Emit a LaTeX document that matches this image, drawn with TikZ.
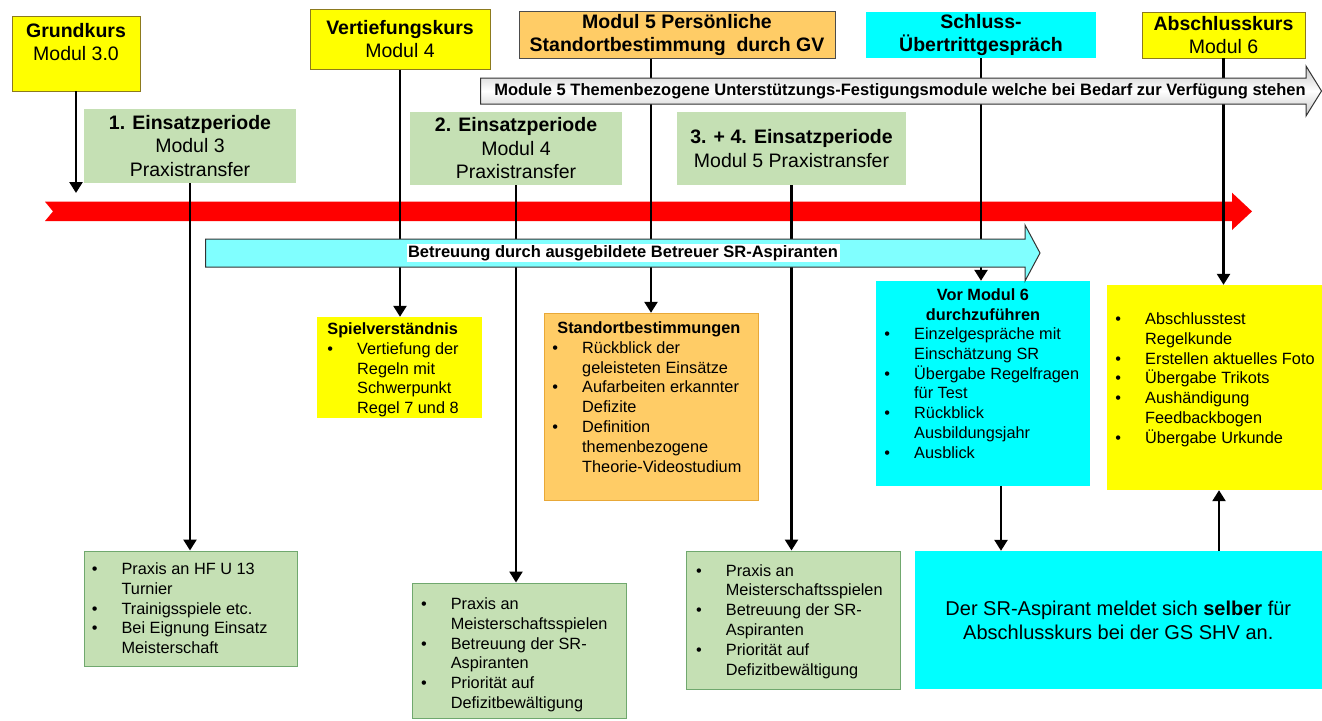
\documentclass[tikz,border=0pt]{standalone}
\usepackage{fontspec}
\setmainfont{Liberation Sans}
\usetikzlibrary{arrows.meta, positioning}

\definecolor{KursGelb}{HTML}{FFFF00}
\definecolor{GoldRand}{HTML}{8C7A1E}
\definecolor{ModulOrange}{HTML}{FFCC66}
\definecolor{OrangeRand}{HTML}{E8A838}
\definecolor{SchlussCyan}{HTML}{00FFFF}
\definecolor{BetreuCyan}{HTML}{80FFFF}
\definecolor{PraxisGruen}{HTML}{C5E0B4}
\definecolor{GruenRand}{HTML}{70A86E}
\definecolor{ZeitRot}{HTML}{FF0000}

\newcommand{\Kopf}{\fontsize{19.5}{23.5}\selectfont}
\newcommand{\Liste}{\fontsize{16.3}{19.8}\selectfont}
\newcommand{\Punkt}{\makebox[29.8pt][l]{\textbullet}}
\newcommand{\Einzug}{\hspace*{29.8pt}}

\tikzstyle{Kurs} = [rectangle,
                    draw=GoldRand,
                    line width=0.8pt,
                    fill=KursGelb,
                    align=center,
                    font=\Kopf,
                    inner sep=0pt]
\tikzstyle{Modul} = [rectangle,
                     draw=black!70,
                     line width=0.8pt,
                     fill=ModulOrange,
                     align=center,
                     font=\Kopf\bfseries,
                     inner sep=0pt]
\tikzstyle{Gespraech} = [rectangle,
                         fill=SchlussCyan,
                         align=center,
                         font=\Kopf\bfseries,
                         inner sep=0pt]
\tikzstyle{Periode} = [rectangle,
                       fill=PraxisGruen,
                       align=center,
                       font=\Kopf,
                       inner sep=0pt]
\tikzstyle{Praxis} = [rectangle,
                      draw=GruenRand,
                      line width=1pt,
                      fill=PraxisGruen,
                      inner sep=0pt]
\tikzstyle{Inhalt} = [rectangle, inner sep=0pt]
% Punkte: base = Grundlinie der letzten Zeile
\tikzstyle{Punkte} = [anchor=base west, align=left, font=\Liste, inner sep=0pt]
\tikzstyle{Link} = [line width=2.5pt, -{Triangle[length=11pt, width=13pt]}]
\tikzstyle{Band} = [draw=black!80, line width=1pt]
\tikzstyle{Bandtext} = [font=\fontsize{16.5}{19}\selectfont\bfseries, inner sep=1.5pt]

\begin{document}
\begin{tikzpicture}[x=1pt, y=-1pt]
    \useasboundingbox (0,0) rectangle (1322,720);

    % Zeitachse
    \fill[ZeitRot] (45,201.7) -- (1232,201.7) -- (1232,192.7) -- (1252,211.4)
        -- (1232,230) -- (1232,221) -- (45,221) -- (53,211.4) -- cycle;

    % Kurse und Gespraeche
    \node (Grundkurs) [Kurs, minimum width=128, minimum height=75] at (76,53.5) {\textbf{Grundkurs}\\Modul 3.0\\\mbox{}};
    \node (Vertiefung) [Kurs, minimum width=180, minimum height=60] at (400,39.2) {\textbf{Vertiefungskurs}\\Modul 4};
    \node (Modul_5) [Modul, minimum width=316, minimum height=47] at (677,35) {Modul 5 Persönliche\\Standortbestimmung\ \ durch GV};
    \node (Schluss) [Gespraech, minimum width=230, minimum height=46] at (981,35) {Schluss-\\Übertrittgespräch};
    \node (Abschluss) [Kurs, minimum width=163, minimum height=46] at (1223.5,35) {\textbf{Abschlusskurs}\\Modul 6};

    % Einsatzperioden
    \node (Periode_1) [Periode, minimum width=212, minimum height=74] at (190,146) {\textbf{1. Einsatzperiode}\\Modul 3\\Praxistransfer};
    \node (Periode_2) [Periode, minimum width=212, minimum height=73] at (516,148.3) {\textbf{2. Einsatzperiode}\\Modul 4\\Praxistransfer};
    \node (Periode_3) [Periode, minimum width=229, minimum height=73] at (791.5,148.3) {\textbf{3. + 4. Einsatzperiode}\\Modul 5 Praxistransfer};

    % Inhalte
    \node (Spiel) [Inhalt, fill=KursGelb, minimum width=165, minimum height=101] at (399.5,367.5) {};
    \node (Spiel_Text) [Punkte] at (327.2,413.7) {\textbf{Spielverständnis}\\\Punkt Vertiefung der\\\Einzug Regeln mit\\\Einzug Schwerpunkt\\\Einzug Regel 7 und 8};

    \node (Standort) [Inhalt, fill=ModulOrange, draw=OrangeRand, minimum width=214, minimum height=187] at (651,406.5) {};
    \node (Standort_Text) [Punkte] at (552.2,472.1) {\hspace*{5pt}\textbf{Standortbestimmungen}\\\Punkt Rückblick der\\\Einzug geleisteten Einsätze\\\Punkt Aufarbeiten erkannter\\\Einzug Defizite\\\Punkt Definition\\\Einzug themenbezogene\\\Einzug Theorie-Videostudium};

    \node (Vor_Modul_6) [Inhalt, fill=SchlussCyan, minimum width=214, minimum height=205] at (983,383.5) {};
    \node (Vor_Titel) [anchor=base, align=center, font=\Liste\bfseries, inner sep=0pt] at (983,320.3) {Vor Modul 6\\durchzuführen};
    \node (Vor_Text) [Punkte] at (884.2,458.3) {\Punkt Einzelgespräche mit\\\Einzug Einschätzung SR\\\Punkt Übergabe Regelfragen\\\Einzug für Test\\\Punkt Rückblick\\\Einzug Ausbildungsjahr\\\Punkt Ausblick};

    \node (Abschluss_Inhalt) [Inhalt, fill=KursGelb, minimum width=215, minimum height=205] at (1214.5,387.5) {};
    \node (Abschluss_Text) [Punkte] at (1115.2,443.3) {\Punkt Abschlusstest\\\Einzug Regelkunde\\\Punkt Erstellen aktuelles Foto\\\Punkt Übergabe Trikots\\\Punkt Aushändigung\\\Einzug Feedbackbogen\\\Punkt Übergabe Urkunde};

    % Praxis
    \node (Praxis_1) [Praxis, minimum width=213, minimum height=115] at (190.5,608.5) {};
    \node (Praxis_1_Text) [Punkte] at (91.6,653.7) {\Punkt Praxis an HF U 13\\\Einzug Turnier\\\Punkt Trainigsspiele etc.\\\Punkt Bei Eignung Einsatz\\\Einzug Meisterschaft};
    \node (Praxis_2) [Praxis, minimum width=214, minimum height=135] at (519,650.5) {};
    \node (Praxis_2_Text) [Punkte] at (420.8,708.5) {\Punkt Praxis an\\\Einzug Meisterschaftsspielen\\\Punkt Betreuung der SR-\\\Einzug Aspiranten\\\Punkt Priorität auf\\\Einzug Defizitbewältigung};
    \node (Praxis_3) [Praxis, minimum width=214, minimum height=138] at (793,620) {};
    \node (Praxis_3_Text) [Punkte] at (695.9,675) {\Punkt Praxis an\\\Einzug Meisterschaftsspielen\\\Punkt Betreuung der SR-\\\Einzug Aspiranten\\\Punkt Priorität auf\\\Einzug Defizitbewältigung};

    \node (Anmeldung) [Inhalt, fill=SchlussCyan, minimum width=407.4, minimum height=138, align=center, font=\fontsize{20}{24}\selectfont] at (1118.3,620) {Der SR-Aspirant meldet sich \textbf{selber} für\\Abschlusskurs bei der GS SHV an.};

    % Verbindungen
    \coordinate (Zeit_Start) at (76,193);
    \draw[Link] (Grundkurs.south) -- (Grundkurs.south |- Zeit_Start);
    \draw[Link] (Vertiefung.south) -- (Vertiefung.south |- Spiel.north);
    \draw[Link] (Modul_5.south -| Standort.north) -- (Standort.north);
    \draw[Link] (Schluss.south) -- (Schluss.south |- Vor_Modul_6.north);
    \draw[Link] (Abschluss.south) -- (Abschluss.south |- Abschluss_Inhalt.north);
    \draw[Link] (Periode_1.south) -- (Periode_1.south |- Praxis_1.north);
    \draw[Link] (Periode_2.south) -- (Periode_2.south |- Praxis_2.north);
    \draw[Link] (Periode_3.south) -- (Periode_3.south |- Praxis_3.north);
    \draw[Link] ([xshift=18pt]Vor_Modul_6.south) -- ([xshift=18pt]Vor_Modul_6.south |- Anmeldung.north);
    \draw[Link] ([xshift=4.5pt]Abschluss_Inhalt.south |- Anmeldung.north) -- ([xshift=4.5pt]Abschluss_Inhalt.south);

    % Baender
    \draw[Band, fill=BetreuCyan] (205.5,239) -- (1025,239) -- (1025,225) -- (1040,253)
        -- (1025,281) -- (1025,267) -- (205.5,267) -- cycle;
    \node (Betreuung) [Bandtext, fill=white] at (623,253) {Betreuung durch ausgebildete Betreuer SR-Aspiranten};
    \draw[Band, top color=gray!45, bottom color=gray!45, middle color=white] (480.6,78) -- (1306,78) -- (1306,66)
        -- (1321.5,91) -- (1306,116) -- (1306,104) -- (480.6,104) -- cycle;
    \node (Themen) [Bandtext] at (900,91) {Module 5 Themenbezogene Unterstützungs-Festigungsmodule welche bei Bedarf zur Verfügung stehen};
\end{tikzpicture}
\end{document}
